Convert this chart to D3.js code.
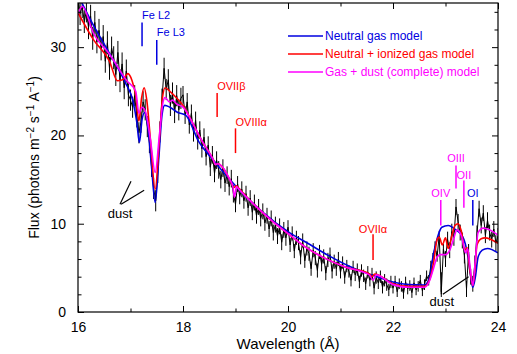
<!DOCTYPE html>
<html><head><meta charset="utf-8">
<script src="https://cdn.jsdelivr.net/npm/d3@7"></script>
<style>
body{margin:0;background:#fff;}
text{font-family:"Liberation Sans",Arial,Helvetica,sans-serif;}
</style></head>
<body><svg id="c" width="517" height="354"></svg>
<script>
// ---- data ----
const dataStart = 16.0, dataStep = 0.04;
const dataFlux = [
 35.5,33.8,34.6,32.9,34.1,32.2,33.5,31.0,32.8,30.6,31.9,29.8,31.2,28.4,30.5,27.6,29.9,28.8,26.9,29.4,26.2,28.1,25.4,27.3,24.6,
 24.0,23.2,24.5,22.1,20.3,21.5,23.8,22.9,21.0,19.2,16.5,14.0,12.6,15.8,20.4,24.1,27.6,25.2,26.3,23.4,24.8,22.6,24.5,22.9,24.2,
 24.6,22.3,23.8,21.2,22.5,20.3,21.7,19.4,20.6,18.5,19.8,17.6,18.9,16.4,17.8,15.7,17.2,16.1,15.0,16.3,14.6,15.5,14.2,15.1,13.4,
 12.2,14.5,13.1,13.9,12.6,13.4,11.8,12.9,11.3,12.4,10.9,11.9,10.6,11.4,10.1,10.9,9.4,10.6,9.0,9.9,8.6,9.7,7.9,9.3,8.4,
 9.6,7.6,8.9,6.9,8.4,7.8,6.2,8.1,5.8,7.2,6.6,4.9,7.0,6.1,4.7,6.8,5.4,6.3,4.4,5.9,6.5,4.6,5.7,4.9,6.0,
 4.5,5.6,3.9,5.2,4.6,3.6,5.1,4.2,4.8,3.4,4.7,4.1,3.2,4.5,3.6,4.3,2.7,3.9,3.3,4.0,2.8,3.6,3.1,2.5,3.4,
 2.7,3.5,2.3,3.2,2.9,2.1,3.4,2.6,3.0,2.2,3.3,2.5,2.9,3.6,2.4,3.1,4.1,3.6,5.2,6.1,7.4,6.3,8.6,2.3,7.1,
 6.0,8.2,7.0,9.1,8.4,11.9,10.2,9.0,8.1,6.4,2.6,6.8,4.0,3.2,5.5,8.9,11.7,9.8,11.2,8.7,10.4,9.0,8.2,9.4,7.8,
 8.6
];
// half-length of the error bars, one value per 1-Å stretch (16-17, 17-18, ... 23-24)
const errPerAngstrom = [1.3,1.2,1.0,0.9,0.8,0.7,0.6,0.9];
const neutralWl = [16.0,16.05,16.3,16.6,16.9,17.05,17.12,17.17,17.22,17.27,17.33,17.40,17.47,17.54,17.6,17.65,17.75,17.9,18.05,18.3,18.58,19.0,19.5,20.0,20.4,20.8,21.2,21.6,22.0,22.3,22.6,22.7,22.76,22.85,22.93,23.05,23.2,23.33,23.43,23.48,23.52,23.57,23.62,23.7,23.8,24.0];
const neutralFlux = [35.9,35.3,32.4,29.3,26.0,23.8,21.5,19.2,21.8,22.6,21.0,16.5,12.4,17.5,22.3,23.4,23.2,22.6,22.3,19.3,17.2,14.3,11.4,9.1,7.7,6.3,5.1,4.2,3.4,3.1,3.05,4.0,6.2,8.5,9.6,9.8,9.3,8.5,6.2,4.0,2.8,4.0,6.2,7.0,7.2,6.7];
const ionizedWl = [16.0,16.3,16.6,16.75,16.85,16.95,17.03,17.1,17.16,17.21,17.26,17.31,17.38,17.47,17.55,17.61,17.66,17.75,17.87,18.0,18.15,18.32,18.58,18.62,18.66,18.9,18.97,19.02,19.05,19.4,19.7,20.04,20.32,20.7,21.09,21.55,21.6,21.65,22.0,22.3,22.6,22.7,22.77,22.84,22.88,22.94,23.0,23.05,23.12,23.18,23.24,23.3,23.37,23.41,23.46,23.52,23.56,23.6,23.68,23.75,24.0];
const ionizedFlux = [33.9,30.8,28.4,26.2,26.3,27.0,26.2,24.5,21.6,24.2,25.4,24.0,19.5,13.9,19.5,24.3,25.4,25.0,24.3,23.4,21.8,19.8,17.2,16.7,16.8,14.9,14.1,14.3,14.1,11.9,10.3,8.7,7.4,6.1,5.1,4.3,4.0,4.3,3.2,2.9,2.9,3.7,5.5,8.2,8.5,7.6,8.4,7.2,8.6,9.8,10.0,9.2,7.0,7.3,5.0,3.0,4.8,7.6,8.3,8.4,7.8];
const dustWl = [16.0,16.08,16.3,16.6,16.93,17.1,17.16,17.22,17.28,17.38,17.47,17.55,17.62,17.66,17.74,17.8,17.87,18.0,18.15,18.32,18.58,18.62,18.66,18.9,18.95,18.98,19.02,19.05,19.4,19.7,20.04,20.32,20.7,21.09,21.55,21.62,21.68,22.0,22.3,22.6,22.7,22.76,22.84,22.9,23.0,23.08,23.15,23.22,23.31,23.38,23.42,23.47,23.52,23.57,23.62,23.72,23.8,24.0];
const dustFlux = [33.8,34.6,31.5,29.2,26.2,25.0,22.5,23.2,22.8,19.5,15.8,20.0,23.8,24.3,23.8,24.0,23.6,23.2,21.8,19.8,17.2,16.7,16.8,14.9,14.2,13.0,14.2,14.0,11.9,10.3,8.7,7.4,6.1,5.1,4.2,3.6,4.2,3.1,2.8,2.8,3.6,4.7,6.2,6.5,6.5,7.0,8.2,9.3,8.5,6.7,7.2,5.0,3.0,6.0,9.0,9.5,9.4,8.7];
const xMajor = [16,18,20,22,24];
const xMinor = [17,19,21,23];
const yMajor = [0,10,20,30];
const yMinor = [2,4,6,8,12,14,16,18,22,24,26,28,32,34];
const legendLabels = ["Neutral gas model","Neutral + ionized gas model","Gas + dust (complete) model"];
const legendColors = ["#0000e0","#ff0000","#ff00ff"];
// annotations: label, wavelength, marker top/bottom flux, colour, text baseline flux
const lineMarks = [
 {t:"Fe L2", wl:17.22, f1:32.8, f2:30.1, c:"#0000e0", tf:33.2, anchor:"start"},
 {t:"Fe L3", wl:17.50, f1:30.8, f2:28.0, c:"#0000e0", tf:31.3, anchor:"start"},
 {t:"OVIIβ", wl:18.65, f1:24.8, f2:22.1, c:"#ff0000", tf:25.1, anchor:"start"},
 {t:"OVIIIα", wl:19.00, f1:20.8, f2:18.0, c:"#ff0000", tf:21.1, anchor:"start"},
 {t:"OVIIα", wl:21.62, f1:8.8, f2:5.9, c:"#ff0000", tf:8.95, anchor:"middle"},
 {t:"OIV", wl:22.91, f1:12.7, f2:9.8, c:"#ff00ff", tf:13.0, anchor:"middle"},
 {t:"OIII", wl:23.20, f1:16.6, f2:14.0, c:"#ff00ff", tf:17.0, anchor:"middle"},
 {t:"OII", wl:23.35, f1:14.9, f2:11.8, c:"#ff00ff", tf:15.05, anchor:"middle"},
 {t:"OI", wl:23.52, f1:12.7, f2:9.8, c:"#0000e0", tf:13.0, anchor:"middle"}
];

// ---- chart ----
const svg = d3.select("#c");
const L=78, R=498, T=3, B=312;
const x = d3.scaleLinear().domain([16,24]).range([L,R]);
const y = d3.scaleLinear().domain([0,35]).range([B,T]);

svg.append("defs").append("clipPath").attr("id","clip")
  .append("rect").attr("x",L).attr("y",T).attr("width",R-L).attr("height",B-T);

const g = svg.append("g").attr("clip-path","url(#clip)");
const dataPts = dataFlux.map((f,i)=>[dataStart+i*dataStep, f]);
const errOf = d => errPerAngstrom[Math.min(errPerAngstrom.length-1, Math.floor(d[0]-16))];
g.append("g").selectAll("line").data(dataPts).join("line")
  .attr("x1",d=>x(d[0])).attr("x2",d=>x(d[0]))
  .attr("y1",d=>y(d[1]-errOf(d))).attr("y2",d=>y(d[1]+errOf(d)))
  .attr("stroke","#000").attr("stroke-width",1);
const line = d3.line().x(d=>x(d[0])).y(d=>y(d[1]));
g.append("path").datum(dataPts).attr("d",line).attr("fill","none").attr("stroke","#000").attr("stroke-width",1);

const smooth = d3.line().x(d=>x(d[0])).y(d=>y(d[1])).curve(d3.curveMonotoneX);
[[neutralWl,neutralFlux,legendColors[0]],[ionizedWl,ionizedFlux,legendColors[1]],[dustWl,dustFlux,legendColors[2]]].forEach(([w,f,c])=>{
  g.append("path").datum(w.map((v,i)=>[v,f[i]])).attr("d",smooth).attr("fill","none").attr("stroke",c).attr("stroke-width",1.6);
});

// axes
function styleAxis(sel){ sel.select(".domain").remove(); sel.selectAll("line").attr("stroke","#000"); sel.selectAll("text").attr("font-size",14).attr("fill","#000").style("font-family","Liberation Sans, Arial, sans-serif"); }
svg.append("g").attr("transform",`translate(0,${B})`).call(d3.axisBottom(x).tickValues(xMajor).tickSize(-6).tickPadding(10).tickFormat(d3.format("d"))).call(styleAxis);
svg.append("g").attr("transform",`translate(0,${B})`).call(d3.axisBottom(x).tickValues(xMinor).tickSize(-3.5).tickFormat("")).call(styleAxis);
svg.append("g").attr("transform",`translate(0,${T})`).call(d3.axisTop(x).tickValues(xMajor).tickSize(-6).tickFormat("")).call(styleAxis);
svg.append("g").attr("transform",`translate(0,${T})`).call(d3.axisTop(x).tickValues(xMinor).tickSize(-3.5).tickFormat("")).call(styleAxis);
svg.append("g").attr("transform",`translate(${L},0)`).call(d3.axisLeft(y).tickValues(yMajor).tickSize(-6).tickPadding(12).tickFormat(d3.format("d"))).call(styleAxis);
svg.append("g").attr("transform",`translate(${L},0)`).call(d3.axisLeft(y).tickValues(yMinor).tickSize(-3.5).tickFormat("")).call(styleAxis);
svg.append("g").attr("transform",`translate(${R},0)`).call(d3.axisRight(y).tickValues(yMajor).tickSize(-6).tickFormat("")).call(styleAxis);
svg.append("g").attr("transform",`translate(${R},0)`).call(d3.axisRight(y).tickValues(yMinor).tickSize(-3.5).tickFormat("")).call(styleAxis);
svg.append("rect").attr("x",L).attr("y",T).attr("width",R-L).attr("height",B-T).attr("fill","none").attr("stroke","#000").attr("stroke-width",1.2);

// axis labels
svg.append("text").attr("x",(L+R)/2).attr("y",349).attr("text-anchor","middle").attr("font-size",15).text("Wavelength (Å)");
const yl = svg.append("text").attr("transform",`translate(39,${(T+B)/2}) rotate(-90)`).attr("text-anchor","middle").attr("font-size",14);
yl.append("tspan").text("Flux (photons m");
yl.append("tspan").attr("dy",-5).attr("font-size",10).text("−2");
yl.append("tspan").attr("dy",5).text(" s");
yl.append("tspan").attr("dy",-5).attr("font-size",10).text("−1");
yl.append("tspan").attr("dy",5).text(" A");
yl.append("tspan").attr("dy",-5).attr("font-size",10).text("−1");
yl.append("tspan").attr("dy",5).text(")");

// legend
legendLabels.forEach((lab,i)=>{
  const yy = 36 + i*18;
  svg.append("line").attr("x1",288).attr("x2",323).attr("y1",yy).attr("y2",yy).attr("stroke",legendColors[i]).attr("stroke-width",1.6);
  svg.append("text").attr("x",325).attr("y",yy+4).attr("font-size",12).attr("fill",legendColors[i]).text(lab);
});

// line markers
lineMarks.forEach(m=>{
  svg.append("line").attr("x1",x(m.wl)).attr("x2",x(m.wl)).attr("y1",y(m.f1)).attr("y2",y(m.f2)).attr("stroke",m.c).attr("stroke-width",1.5);
  svg.append("text").attr("x",x(m.wl)).attr("y",y(m.tf)).attr("text-anchor",m.anchor).attr("font-size",11).attr("fill",m.c).text(m.t);
});

// dust pointers
const dustPtrs = [
 [[16.80,12.2],[17.01,14.8]],
 [[16.82,12.2],[17.26,13.8]],
 [[22.92,2.0],[22.92,4.5]],
 [[22.95,2.0],[23.44,4.0]]
];
dustPtrs.forEach(p=>{
  svg.append("line").attr("x1",x(p[0][0])).attr("y1",y(p[0][1])).attr("x2",x(p[1][0])).attr("y2",y(p[1][1])).attr("stroke","#000").attr("stroke-width",1.2);
});
svg.append("text").attr("x",x(16.80)).attr("y",y(10.6)).attr("text-anchor","middle").attr("font-size",13).text("dust");
svg.append("text").attr("x",x(22.93)).attr("y",y(0.65)).attr("text-anchor","middle").attr("font-size",13).text("dust");
</script></body></html>
